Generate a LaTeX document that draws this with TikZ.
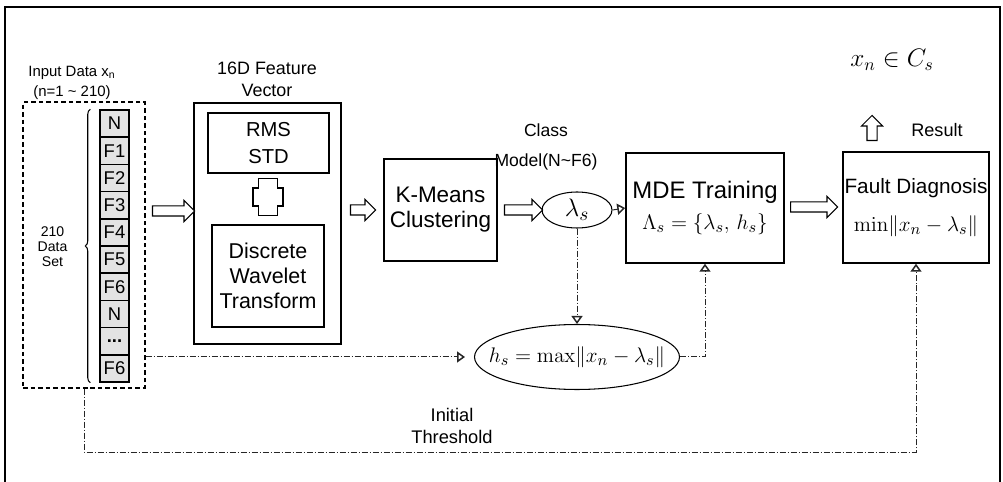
\documentclass[tikz,border=0pt]{standalone}
\usepackage[no-math]{fontspec}
\setmainfont{Liberation Sans}
\usepackage{amsmath,amssymb}
\usetikzlibrary{arrows.meta,positioning,shapes.geometric,shapes.arrows,calc,decorations.pathreplacing}
\newcommand{\fsz}[2]{\fontsize{#1}{#2}\selectfont}
\newcommand{\celldots}{\textbf{...}}

\begin{document}
\begin{tikzpicture}[x=0.02cm, y=-0.02cm,
  every node/.style={font=\fsz{10}{12}},
  box/.style={draw, line width=0.3mm, align=center, inner sep=0pt},
  cell/.style={draw, line width=0.3mm, fill=gray!22, minimum width=5.8mm, minimum height=5.44mm, inner sep=0pt, font=\fsz{10.5}{12}},
  ell/.style={draw, semithick, ellipse, inner sep=0pt},
  blk/.style={single arrow, draw, semithick, fill=white, inner sep=0.9mm, single arrow head extend=1.1mm, minimum height=#1},
  dline/.style={line width=0.2mm, black!85, dash pattern=on 1.2mm off 0.4mm on 0.2mm off 0.4mm},
  tip/.style={dline, -{Triangle[open, length=1.6mm, width=2.2mm, line width=0.3mm]}},
  lab/.style={align=center}]
  \useasboundingbox (0,0) rectangle (1003,482);
  \draw[line width=0.35mm] (5,482) -- (5,7) -- (1000,7) -- (1000,482);

  % input data
  \node[lab, font=\fsz{8.5}{11.4}] (intitle) at (72,83) {Input Data x\textsubscript{n}\\(n=1 \textasciitilde{} 210)};
  \node[box, dashed, dash pattern=on 0.9mm off 0.6mm, minimum width=24.4mm, minimum height=57.2mm] (data) at (84,245) {};
  \foreach \lab [count=\i] in {N,F1,F2,F3,F4,F5,F6,N,\celldots,F6}
    \node[cell] (c\i) at (114.5,{96.4+27.2*\i}) {\lab};
  \draw[semithick, decorate, decoration={brace, amplitude=1mm}] ([xshift=-1.8mm]c10.south west) -- ([xshift=-1.8mm]c1.north west);
  \node[lab, font=\fsz{8}{8.6}] (setlab) at (52.5,247) {210\\Data\\Set};

  % feature vector
  \node[lab, font=\fsz{10.2}{12.5}] (feattitle) at (267,79) {16D Feature\\Vector};
  \node[box, minimum width=29.4mm, minimum height=48.2mm] (feat) at (267.5,223.5) {};
  \node[box, line width=0.25mm, minimum width=24.2mm, minimum height=12mm, font=\fsz{11.5}{15}] (rms) at (268.5,143) {RMS\\STD};
  \coordinate (plus) at (268,197);
  \draw[semithick] ($(plus)+(-9.5,-18.5)$) -- ++(19,0) -- ++(0,9.5) -- ++(5.5,0) -- ++(0,18) -- ++(-5.5,0) -- ++(0,9.5) -- ++(-19,0) -- ++(0,-9.5) -- ++(-5.5,0) -- ++(0,-18) -- ++(5.5,0) -- cycle;
  \node[box, line width=0.25mm, minimum width=22.4mm, minimum height=20.4mm, font=\fsz{12.2}{14.4}] (dwt) at (268,276) {Discrete\\Wavelet\\Transform};

  % clustering and model
  \node[box, line width=0.25mm, minimum width=22.6mm, minimum height=20.4mm, font=\fsz{12.8}{14.2}] (km) at (440.5,210) {K-Means\\Clustering};
  \node[lab, font=\fsz{10}{17}] (classlab) at (546,147) {Class\\Model(N\textasciitilde F6)};
  \node[ell, minimum width=14mm, minimum height=7.2mm] (lam) at (577,210) {};
  \node[font=\fsz{15.5}{15.5}] (lamf) at (lam) {$\lambda_s$};
  \node[box, minimum width=31.6mm, minimum height=22mm, font=\fsz{13.6}{18}] (mde) at (705,208) {MDE Training\\{\fsz{12.8}{12.8}$\Lambda_s=\{\lambda_s,\,h_s\}$}};
  \node[box, minimum width=29.2mm, minimum height=22.2mm, font=\fsz{11.8}{22}] (fd) at (916,207.5) {Fault Diagnosis\\{\fsz{12.6}{12.6}$\min\!\|x_n-\lambda_s\|$}};
  \node[ell, minimum width=41mm, minimum height=13mm] (hs) at (577,357) {};
  \node[font=\fsz{13}{13}] (hsf) at (hs) {$h_s=\max\!\|x_n-\lambda_s\|$};
  \node[lab, font=\fsz{10.4}{12.5}] (thrlab) at (452,426) {Initial\\Threshold};

  % result
  \node[font=\fsz{14.5}{14.5}] (res) at (892,60) {$x_n\in C_s$};
  \node[font=\fsz{10.3}{12}] (reslab) at (937,130) {Result};

  % block arrows
  \node[blk=8.4mm] (a1) at (171,211) {};
  \node[blk=5mm] (a2) at (360.5,210) {};
  \node[blk=7.6mm] (a3) at (521,210) {};
  \node[blk=9.4mm] (a4) at (811.5,207) {};
  \node[blk=5mm, shape border rotate=90] (a5) at (872,130.5) {};

  % dash-dot links
  \draw[tip] (lam.east) -- (mde.west);
  \draw[tip] (lam.south) -- (hs.north);
  \draw[tip, shorten >=1.8mm] (data.east |- hs.west) -- (hs.west);
  \draw[tip] (hs.east) -| (mde.south);
  \coordinate (bot) at (84,452);
  \draw[tip] (data.south) -- (bot) -| (fd.south);
\end{tikzpicture}
\end{document}
